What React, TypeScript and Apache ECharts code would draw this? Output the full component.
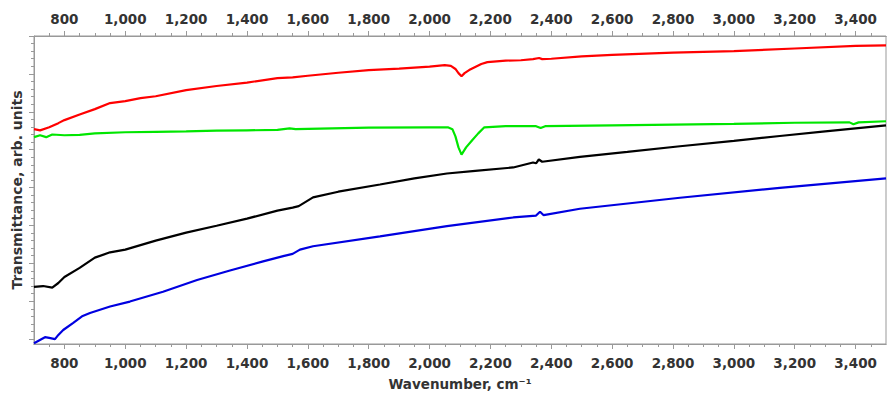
import React, { useEffect, useRef } from "react";
import * as echarts from "echarts";

// Wavenumbers (cm^-1) and transmittance (arb. units)
const redX = [700, 720, 750, 780, 800, 850, 900, 950, 1000, 1050, 1100, 1200, 1300, 1400, 1500, 1550, 1600, 1700, 1800, 1900, 2000, 2050, 2070, 2085, 2095, 2105, 2115, 2130, 2150, 2170, 2190, 2250, 2300, 2340, 2360, 2370, 2400, 2500, 2600, 2800, 3000, 3200, 3400, 3500];
const redY = [5.54, 5.51, 5.59, 5.70, 5.78, 5.93, 6.07, 6.23, 6.28, 6.36, 6.41, 6.57, 6.68, 6.77, 6.89, 6.91, 6.95, 7.03, 7.10, 7.14, 7.19, 7.23, 7.21, 7.13, 7.02, 6.94, 7.02, 7.10, 7.18, 7.26, 7.31, 7.35, 7.36, 7.39, 7.42, 7.39, 7.40, 7.46, 7.50, 7.56, 7.60, 7.67, 7.74, 7.75];

const greenX = [700, 720, 740, 760, 800, 850, 900, 1000, 1100, 1200, 1300, 1400, 1500, 1540, 1560, 1600, 1800, 2000, 2060, 2075, 2085, 2095, 2105, 2120, 2140, 2160, 2180, 2250, 2350, 2365, 2380, 2600, 2800, 3000, 3200, 3380, 3393, 3410, 3500];
const greenY = [5.33, 5.38, 5.33, 5.40, 5.38, 5.39, 5.43, 5.46, 5.47, 5.48, 5.50, 5.51, 5.52, 5.56, 5.54, 5.55, 5.58, 5.59, 5.59, 5.54, 5.35, 5.06, 4.87, 5.06, 5.25, 5.43, 5.59, 5.62, 5.62, 5.57, 5.62, 5.64, 5.66, 5.68, 5.71, 5.72, 5.67, 5.72, 5.75];

const blackX = [700, 730, 760, 780, 800, 850, 900, 950, 1000, 1100, 1200, 1300, 1400, 1500, 1550, 1570, 1617, 1700, 1837, 1950, 2057, 2150, 2275, 2340, 2350, 2359, 2370, 2494, 2650, 2823, 3000, 3151, 3300, 3500];
const blackY = [1.38, 1.40, 1.36, 1.48, 1.64, 1.88, 2.15, 2.29, 2.36, 2.60, 2.81, 2.99, 3.18, 3.39, 3.47, 3.51, 3.74, 3.89, 4.08, 4.24, 4.37, 4.44, 4.53, 4.66, 4.64, 4.74, 4.68, 4.81, 4.94, 5.09, 5.23, 5.36, 5.48, 5.64];

const blueX = [700, 709, 736, 750, 769, 780, 796, 829, 860, 884, 950, 1015, 1124, 1236, 1344, 1453, 1519, 1550, 1574, 1617, 1837, 2057, 2275, 2350, 2363, 2375, 2494, 2823, 3151, 3500];
const blueY = [-0.11, -0.07, 0.05, 0.03, 0.0, 0.11, 0.24, 0.43, 0.61, 0.69, 0.86, 0.99, 1.25, 1.56, 1.81, 2.05, 2.19, 2.25, 2.36, 2.45, 2.71, 2.98, 3.21, 3.26, 3.36, 3.27, 3.44, 3.73, 3.99, 4.24];

const xMajorTicks = [800, 1000, 1200, 1400, 1600, 1800, 2000, 2200, 2400, 2600, 2800, 3000, 3200, 3400];
const yMajorTicks = [0, 1, 2, 3, 4, 5, 6, 7, 8];

const X_MIN = 700;
const X_MAX = 3500;
const Y_MIN = -0.13;
const Y_MAX = 8;

const pairs = (xs: number[], ys: number[]) => xs.map((x, i) => [x, ys[i]]);

export default function App() {
  const ref = useRef<HTMLDivElement>(null);

  useEffect(() => {
    if (!ref.current) return;
    const chart = echarts.init(ref.current, null, { renderer: "svg" });

    const xMinor: number[] = [];
    for (let v = 750; v < X_MAX; v += 50) if (v % 200 !== 0) xMinor.push(v);
    const yMinor: number[] = [];
    for (let k = 1; k < 40; k++) if (k % 5 !== 0) yMinor.push(+(k * 0.2).toFixed(1));

    const font = "DejaVu Sans";
    const gray = "#999999";
    const labelStyle = { color: "#333", fontFamily: font, fontWeight: "bold" as const, fontSize: 13.5 };

    const baseX = {
      type: "value" as const,
      min: X_MIN,
      max: X_MAX,
      splitLine: { show: false },
      axisLine: { show: true, onZero: false, lineStyle: { color: gray, width: 1 } },
    };

    const lineSeries = (name: string, xs: number[], ys: number[], color: string) => ({
      name,
      type: "line" as const,
      data: pairs(xs, ys),
      showSymbol: false,
      symbol: "none",
      xAxisIndex: 0,
      yAxisIndex: 0,
      lineStyle: { color, width: 2.2 },
      itemStyle: { color },
      silent: true,
    });

    chart.setOption({
      animation: false,
      backgroundColor: "#ffffff",
      grid: {
        left: 34,
        right: 1,
        top: 36,
        bottom: 52,
        show: true,
        borderColor: gray,
        borderWidth: 1,
        containLabel: false,
      },
      xAxis: [
        {
          ...baseX,
          position: "bottom",
          name: "Wavenumber, cm⁻¹",
          nameLocation: "middle",
          nameGap: 33,
          nameTextStyle: { ...labelStyle, fontSize: 13.5 },
          axisTick: { show: true, customValues: xMajorTicks, length: 5, lineStyle: { color: gray } },
          axisLabel: {
            ...labelStyle,
            customValues: xMajorTicks,
            margin: 12,
            formatter: (v: number) => v.toLocaleString("en-US"),
          },
        },
        {
          ...baseX,
          position: "bottom",
          axisTick: { show: true, customValues: xMinor, length: 3, lineStyle: { color: gray } },
          axisLabel: { show: false },
        },
        {
          ...baseX,
          position: "top",
          axisTick: { show: true, customValues: xMajorTicks, length: 5, lineStyle: { color: gray } },
          axisLabel: {
            ...labelStyle,
            customValues: xMajorTicks,
            margin: 10,
            formatter: (v: number) => v.toLocaleString("en-US"),
          },
        },
        {
          ...baseX,
          position: "top",
          axisTick: { show: true, customValues: xMinor, length: 3, lineStyle: { color: gray } },
          axisLabel: { show: false },
        },
      ],
      yAxis: [
        {
          type: "value",
          min: Y_MIN,
          max: Y_MAX,
          position: "left",
          name: "Transmittance, arb. units",
          nameLocation: "middle",
          nameGap: 10,
          nameTextStyle: { ...labelStyle, fontSize: 14 },
          splitLine: { show: false },
          axisLine: { show: true, onZero: false, lineStyle: { color: gray } },
          axisTick: { show: true, customValues: yMajorTicks, length: 5, lineStyle: { color: gray } },
          axisLabel: { show: false },
        },
        {
          type: "value",
          min: Y_MIN,
          max: Y_MAX,
          position: "left",
          splitLine: { show: false },
          axisLine: { show: false },
          axisTick: { show: true, customValues: yMinor, length: 3, lineStyle: { color: gray } },
          axisLabel: { show: false },
        },
      ],
      series: [
        lineSeries("red", redX, redY, "#ff0000"),
        lineSeries("green", greenX, greenY, "#00e600"),
        lineSeries("black", blackX, blackY, "#000000"),
        lineSeries("blue", blueX, blueY, "#0000e0"),
      ],
    });

    return () => chart.dispose();
  }, []);

  return <div ref={ref} style={{ width: 887, height: 396, position: "absolute", left: 0, top: 0 }} />;
}
